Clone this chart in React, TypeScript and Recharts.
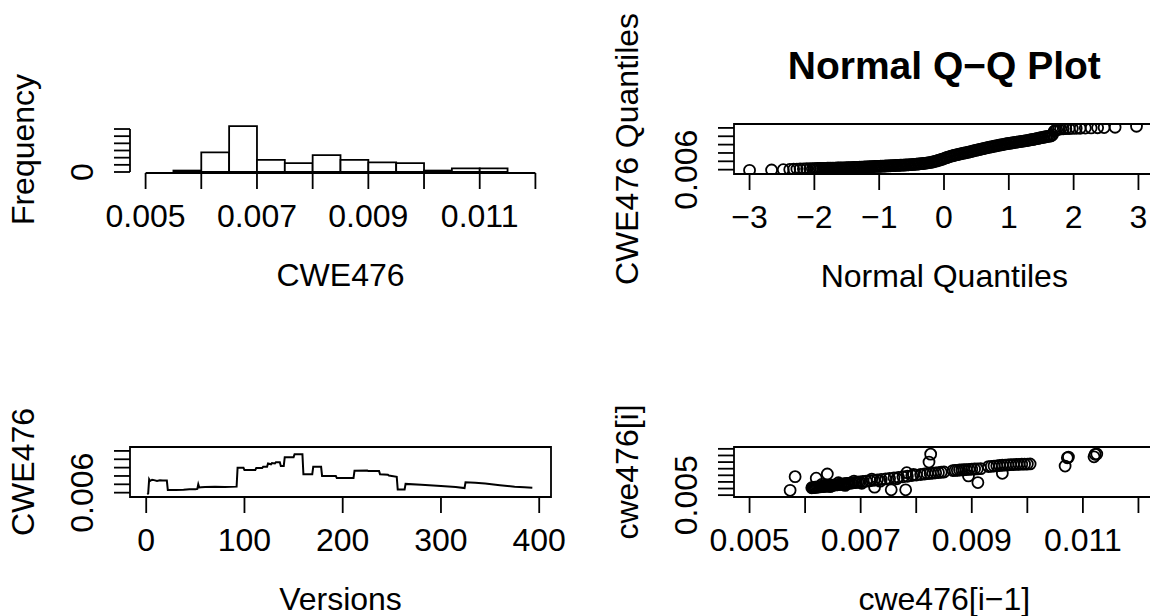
import React from 'react';
import { ScatterChart, Scatter, LineChart, Line, XAxis, YAxis, ReferenceArea, ReferenceLine, Label } from 'recharts';

const FONT = '"Liberation Sans", Arial, Helvetica, sans-serif';
const FS = 32;
const TITLE_FS = 39;
const LW = 1.8;

// ---------- Histogram of CWE476 ----------
const histBinStart = [0.0055, 0.006, 0.0065, 0.007, 0.0075, 0.008, 0.0085, 0.009, 0.0095, 0.01, 0.0105, 0.011];
const histBinEnd = [0.006, 0.0065, 0.007, 0.0075, 0.008, 0.0085, 0.009, 0.0095, 0.01, 0.0105, 0.011, 0.0115];
const histCounts = [4, 55, 128, 34, 25, 47, 34, 27, 25, 4, 10, 10];
const histXTicks = [0.005, 0.006, 0.007, 0.008, 0.009, 0.01, 0.011, 0.012];
const histXLabels = ['0.005', '', '0.007', '', '0.009', '', '0.011', ''];
const histYTicks = [0, 20, 40, 60, 80, 100, 120];
const histYLabels = ['0', '', '', '', '', '', ''];

// ---------- Normal Q-Q plot: [theoretical quantile, sample quantile] ----------
const qqPoints: [number, number][] = [
  [-3.0, 0.00592], [-2.66, 0.00596], [-2.48, 0.006], [-2.38, 0.00603], [-2.32, 0.00605], [-2.27, 0.00607],
  [-2.22, 0.00608], [-2.17, 0.0061], [-2.12, 0.00611], [-2.07, 0.00612], [-2.03, 0.00612],
  [-2.0, 0.00613], [-1.975, 0.00613], [-1.95, 0.00614], [-1.925, 0.00614], [-1.9, 0.00615], [-1.875, 0.00615],
  [-1.85, 0.00616], [-1.825, 0.00616], [-1.8, 0.00617], [-1.775, 0.00617], [-1.75, 0.00618], [-1.725, 0.00618],
  [-1.7, 0.00619], [-1.675, 0.00619], [-1.65, 0.0062], [-1.625, 0.0062], [-1.6, 0.00621], [-1.575, 0.00621],
  [-1.55, 0.00622], [-1.525, 0.00622], [-1.5, 0.00623], [-1.475, 0.00624], [-1.45, 0.00624], [-1.425, 0.00625],
  [-1.4, 0.00626], [-1.375, 0.00627], [-1.35, 0.00627], [-1.325, 0.00628], [-1.3, 0.00629], [-1.275, 0.0063],
  [-1.25, 0.00631], [-1.225, 0.00632], [-1.2, 0.00633], [-1.175, 0.00634], [-1.15, 0.00635], [-1.125, 0.00636],
  [-1.1, 0.00637], [-1.075, 0.00638], [-1.05, 0.00639], [-1.025, 0.0064], [-1.0, 0.0064], [-0.975, 0.00641],
  [-0.95, 0.00642], [-0.925, 0.00643], [-0.9, 0.00644], [-0.875, 0.00645], [-0.85, 0.00646], [-0.825, 0.00647],
  [-0.8, 0.00648], [-0.775, 0.00649], [-0.75, 0.0065], [-0.725, 0.00651], [-0.7, 0.00652], [-0.675, 0.00653],
  [-0.65, 0.00654], [-0.625, 0.00655], [-0.6, 0.00656], [-0.575, 0.00657], [-0.55, 0.00658], [-0.525, 0.0066],
  [-0.5, 0.00661], [-0.475, 0.00663], [-0.45, 0.00664], [-0.425, 0.00666], [-0.4, 0.00668], [-0.375, 0.0067],
  [-0.35, 0.00672], [-0.325, 0.00674], [-0.3, 0.00676], [-0.275, 0.00679], [-0.25, 0.00682], [-0.225, 0.00685],
  [-0.2, 0.00688], [-0.175, 0.00692], [-0.15, 0.00697], [-0.125, 0.00702], [-0.1, 0.00708], [-0.075, 0.00714],
  [-0.05, 0.0072], [-0.025, 0.00726], [0.0, 0.00733], [0.025, 0.0074], [0.05, 0.00747], [0.075, 0.00754],
  [0.1, 0.0076], [0.125, 0.00765], [0.15, 0.0077], [0.175, 0.00775], [0.2, 0.0078], [0.225, 0.00784],
  [0.25, 0.00789], [0.275, 0.00793], [0.3, 0.00797], [0.325, 0.00801], [0.35, 0.00805], [0.375, 0.0081],
  [0.4, 0.00814], [0.425, 0.00819], [0.45, 0.00824], [0.475, 0.00829], [0.5, 0.00834], [0.525, 0.00838],
  [0.55, 0.00843], [0.575, 0.00847], [0.6, 0.00852], [0.625, 0.00856], [0.65, 0.0086], [0.675, 0.00865],
  [0.7, 0.00869], [0.725, 0.00873], [0.75, 0.00877], [0.775, 0.00881], [0.8, 0.00885], [0.825, 0.00889],
  [0.85, 0.00893], [0.875, 0.00897], [0.9, 0.00901], [0.925, 0.00904], [0.95, 0.00908], [0.975, 0.00911],
  [1.0, 0.00915], [1.025, 0.00918], [1.05, 0.00921], [1.075, 0.00925], [1.1, 0.00928], [1.125, 0.00931],
  [1.15, 0.00934], [1.175, 0.00937], [1.2, 0.0094], [1.225, 0.00943], [1.25, 0.00946], [1.275, 0.00949],
  [1.3, 0.00952], [1.325, 0.00956], [1.35, 0.0096], [1.375, 0.00963], [1.4, 0.00967], [1.425, 0.00971],
  [1.45, 0.00975], [1.475, 0.00979], [1.5, 0.00983], [1.525, 0.00987], [1.55, 0.00991], [1.575, 0.00994],
  [1.6, 0.00998], [1.625, 0.01001], [1.65, 0.01005], [1.675, 0.0102],
  [1.7, 0.0106], [1.72, 0.0107], [1.74, 0.01078], [1.77, 0.01085], [1.8, 0.01088], [1.84, 0.0109],
  [1.88, 0.01091], [1.93, 0.01092], [1.98, 0.01094], [2.04, 0.01095], [2.1, 0.01096], [2.18, 0.01098],
  [2.27, 0.011], [2.37, 0.01102], [2.47, 0.01104], [2.64, 0.01108], [2.97, 0.0112],
];
const qqXTicks = [-3, -2, -1, 0, 1, 2, 3];
const qqXLabels = ['\u22123', '\u22122', '\u22121', '0', '1', '2', '3'];
const qqYTicks = [0.006, 0.007, 0.008, 0.009, 0.01, 0.011];
const qqYLabels = ['0.006', '', '', '', '', ''];

// ---------- CWE476 over versions: [version, value] ----------
const seriesPoints: [number, number][] = [
  [1, 0.0058], [2, 0.0059], [3, 0.0076], [4, 0.0074], [6, 0.00755], [8, 0.0075], [11, 0.0074], [14, 0.00748],
  [17, 0.00745], [21, 0.00745], [22, 0.00632], [30, 0.00632], [38, 0.00635], [44, 0.0064], [50, 0.0064],
  [52, 0.00645], [53, 0.007], [54, 0.00662], [56, 0.00665], [60, 0.00668], [70, 0.0067], [80, 0.00668],
  [92, 0.00672], [93, 0.00898], [99, 0.00898], [100, 0.0087], [111, 0.0087], [112, 0.00895], [118, 0.00895],
  [119, 0.0091], [123, 0.0091], [124, 0.0095], [127, 0.0094], [128, 0.00955], [131, 0.0095], [132, 0.00965],
  [136, 0.00965], [137, 0.0092], [140, 0.0092], [141, 0.01025], [150, 0.01025], [151, 0.0106], [159, 0.0106],
  [160, 0.0082], [169, 0.0082], [170, 0.0091], [178, 0.0091], [179, 0.008], [193, 0.008], [194, 0.00775],
  [211, 0.00775], [212, 0.00862], [225, 0.00865], [226, 0.00858], [237, 0.00858], [238, 0.0082], [246, 0.00815],
  [247, 0.00805], [255, 0.0079], [256, 0.00638], [263, 0.00638], [264, 0.00705], [280, 0.00695], [300, 0.0068],
  [315, 0.00668], [324, 0.00655], [325, 0.00725], [335, 0.0072], [345, 0.0071], [360, 0.0069], [375, 0.00672],
  [385, 0.00665], [393, 0.0066],
];
const verXTicks = [0, 100, 200, 300, 400];
const verXLabels = ['0', '100', '200', '300', '400'];

// ---------- Lag plot: [cwe476[i-1], cwe476[i]] ----------
const lagPoints: [number, number][] = [
  [0.00573, 0.00573], [0.00582, 0.0078],
  [0.00612, 0.00612], [0.00614, 0.00614], [0.00616, 0.00617], [0.00618, 0.0062], [0.0062, 0.00621],
  [0.00622, 0.00622], [0.00624, 0.00624], [0.00626, 0.00625], [0.00628, 0.00628], [0.0063, 0.0063],
  [0.00632, 0.00631], [0.00634, 0.00633], [0.00636, 0.00636], [0.00638, 0.00638], [0.0064, 0.00639],
  [0.00642, 0.00641], [0.00644, 0.00644], [0.00646, 0.00646], [0.00648, 0.00648], [0.0065, 0.00651],
  [0.00652, 0.00652], [0.00655, 0.00655], [0.00658, 0.00657], [0.0066, 0.0066], [0.00662, 0.00662],
  [0.00665, 0.00664], [0.00668, 0.00667], [0.0067, 0.0067], [0.00672, 0.00673], [0.00675, 0.00676],
  [0.00678, 0.00679], [0.0068, 0.00682], [0.00683, 0.00684], [0.00686, 0.00687], [0.0069, 0.0069],
  [0.00692, 0.00693], [0.00695, 0.00697], [0.00698, 0.007], [0.00704, 0.00706], [0.0071, 0.00712],
  [0.00717, 0.00718], [0.00724, 0.00724], [0.0073, 0.00731], [0.00737, 0.00738], [0.00745, 0.00745],
  [0.00752, 0.00752], [0.0076, 0.00762], [0.00768, 0.0077], [0.00776, 0.00778], [0.00784, 0.00786],
  [0.00792, 0.00796], [0.008, 0.00804], [0.00808, 0.00812], [0.00815, 0.0082], [0.0082, 0.00824],
  [0.00825, 0.00828], [0.0083, 0.00832], [0.00835, 0.00838], [0.0084, 0.00842], [0.00845, 0.00846],
  [0.0085, 0.0085],
  [0.0063, 0.00662], [0.00645, 0.00628], [0.0066, 0.00688], [0.00672, 0.00648], [0.00688, 0.00712],
  [0.00702, 0.0068], [0.0072, 0.00742], [0.00735, 0.00712], [0.00765, 0.00748], [0.00795, 0.00812],
  [0.0062, 0.00756], [0.0064, 0.0082], [0.00725, 0.00621], [0.00755, 0.00581], [0.00781, 0.00581],
  [0.00783, 0.0084], [0.00823, 0.01], [0.00826, 0.0112],
  [0.00866, 0.00872], [0.0087, 0.00874], [0.00874, 0.00876], [0.00878, 0.0088], [0.00882, 0.00882],
  [0.00886, 0.00884], [0.0089, 0.00887], [0.00895, 0.0089], [0.009, 0.00892], [0.00905, 0.00895],
  [0.0091, 0.00897], [0.00916, 0.009],
  [0.00894, 0.0079], [0.00911, 0.0069], [0.00955, 0.0083],
  [0.0093, 0.00932], [0.00935, 0.00936], [0.0094, 0.0094], [0.00945, 0.00944], [0.0095, 0.00948],
  [0.00955, 0.00952], [0.0096, 0.00955], [0.00965, 0.00958], [0.0097, 0.0096], [0.00975, 0.00962],
  [0.0098, 0.00964], [0.00985, 0.00966], [0.0099, 0.00968], [0.00995, 0.00969], [0.01, 0.0097],
  [0.01005, 0.00972],
  [0.01068, 0.0094], [0.01072, 0.01065], [0.01074, 0.01075], [0.0112, 0.0108], [0.01122, 0.01118],
  [0.01125, 0.01122],
];
const lagTicks = [0.005, 0.006, 0.007, 0.008, 0.009, 0.01, 0.011, 0.012];
const lagXLabels = ['0.005', '', '0.007', '', '0.009', '', '0.011', ''];
const lagYLabels = ['0.005', '', '', '', '', '', '', ''];

// ---------- helpers ----------
const txt = { fontFamily: FONT, fontSize: FS, fill: '#000' } as const;

const findLabel = (ticks: number[], labels: string[], v: number) => {
  const i = ticks.findIndex((t) => Math.abs(t - v) < 1e-9);
  return i >= 0 ? labels[i] : '';
};

const mkXTick = (ticks: number[], labels: string[]) => (props: any) => {
  const { x, y, payload } = props;
  const lab = findLabel(ticks, labels, payload.value);
  if (!lab) return <g />;
  return (
    <text x={x} y={y + 38} textAnchor="middle" {...txt}>
      {lab}
    </text>
  );
};

const mkYTick = (ticks: number[], labels: string[]) => (props: any) => {
  const { x, y, payload } = props;
  const lab = findLabel(ticks, labels, payload.value);
  if (!lab) return <g />;
  const bx = x - 20.7;
  return (
    <text x={bx} y={y} transform={`rotate(-90 ${bx} ${y})`} textAnchor="middle" {...txt}>
      {lab}
    </text>
  );
};

const xTitle = (cx: number, by: number, s: string) => () => (
  <text x={cx} y={by} textAnchor="middle" {...txt}>
    {s}
  </text>
);
const yTitle = (bx: number, cy: number, s: string) => () => (
  <text x={bx} y={cy} transform={`rotate(-90 ${bx} ${cy})`} textAnchor="middle" {...txt}>
    {s}
  </text>
);

const circleShape = (p: any) => (
  <circle cx={p.cx} cy={p.cy} r={5.5} fill="none" stroke="#000" strokeWidth={1.8} />
);
const noShape = () => <g />;

const tickLineStyle = { stroke: '#000', strokeWidth: LW };

const histData = histBinStart.map((s, i) => ({ mid: (s + histBinEnd[i]) / 2, count: histCounts[i] }));
const qqData = qqPoints.map(([x, y]) => ({ x, y }));
const seriesData = seriesPoints.map(([version, value]) => ({ version, value }));
const lagData = lagPoints.map(([x, y]) => ({ x, y }));

const HIST_X_DOMAIN: [number, number] = [0.00472, 0.01228];
const HIST_Y: [number, number] = [-2.8, 128.4];
const VAL_Y: [number, number] = [0.00548, 0.01147];
const LAG_D: [number, number] = [0.00472, 0.01228];
const QQ_X: [number, number] = [-3.24, 3.24];
const VER_X: [number, number] = [-16.5, 412];

export default function App() {
  return (
    <div style={{ position: 'absolute', left: 0, top: 0, width: 1150, height: 616, overflow: 'hidden', background: '#fff' }}>
      {/* Top-left: histogram */}
      <div style={{ position: 'absolute', left: 0, top: 0 }}>
        <ScatterChart width={575} height={308} margin={{ top: 126, right: 24, bottom: 0, left: 0 }}>
          <XAxis
            type="number"
            dataKey="mid"
            domain={HIST_X_DOMAIN}
            allowDataOverflow
            ticks={histXTicks}
            interval={0}
            axisLine={false}
            tickLine={tickLineStyle}
            tickSize={16}
            tickMargin={0}
            height={135}
            tick={mkXTick(histXTicks, histXLabels)}
          >
            <Label content={xTitle(340.5, 286, 'CWE476')} />
          </XAxis>
          <YAxis
            type="number"
            dataKey="count"
            domain={HIST_Y}
            allowDataOverflow
            ticks={histYTicks}
            interval={0}
            axisLine={false}
            tickLine={tickLineStyle}
            tickSize={16}
            tickMargin={0}
            width={130}
            tick={mkYTick(histYTicks, histYLabels)}
          >
            <Label content={yTitle(34, 149.5, 'Frequency')} />
          </YAxis>
          {histData.map((d, i) => (
            <ReferenceArea
              key={i}
              x1={histBinStart[i]}
              x2={histBinEnd[i]}
              y1={0}
              y2={d.count}
              fill="#fff"
              fillOpacity={1}
              stroke="#000"
              strokeWidth={LW}
              ifOverflow="visible"
            />
          ))}
          <ReferenceLine
            segment={[{ x: histXTicks[0], y: HIST_Y[0] }, { x: histXTicks[histXTicks.length - 1], y: HIST_Y[0] }]}
            stroke="#000"
            strokeWidth={LW}
            ifOverflow="visible"
          />
          <ReferenceLine
            segment={[{ x: HIST_X_DOMAIN[0], y: histYTicks[0] }, { x: HIST_X_DOMAIN[0], y: histYTicks[histYTicks.length - 1] }]}
            stroke="#000"
            strokeWidth={LW}
            ifOverflow="visible"
          />
          <Scatter data={histData} shape={noShape} isAnimationActive={false} />
        </ScatterChart>
      </div>

      {/* Top-right: Normal Q-Q plot */}
      <div style={{ position: 'absolute', left: 575, top: 0 }}>
        <ScatterChart width={600} height={308} margin={{ top: 124, right: 21, bottom: 0, left: 0 }}>
          <XAxis
            type="number"
            dataKey="x"
            domain={QQ_X}
            allowDataOverflow
            ticks={qqXTicks}
            interval={0}
            axisLine={false}
            tickLine={tickLineStyle}
            tickSize={16}
            tickMargin={0}
            height={134}
            tick={mkXTick(qqXTicks, qqXLabels)}
          >
            <Label
              content={() => (
                <g>
                  <text x={369.3} y={287} textAnchor="middle" {...txt}>
                    Normal Quantiles
                  </text>
                  <text x={369.3} y={79} textAnchor="middle" fontFamily={FONT} fontSize={TITLE_FS} fontWeight="bold" fill="#000">
                    {'Normal Q\u2212Q Plot'}
                  </text>
                </g>
              )}
            />
          </XAxis>
          <YAxis
            type="number"
            dataKey="y"
            domain={VAL_Y}
            allowDataOverflow
            ticks={qqYTicks}
            interval={0}
            axisLine={false}
            tickLine={tickLineStyle}
            tickSize={16}
            tickMargin={0}
            width={159}
            tick={mkYTick(qqYTicks, qqYLabels)}
          >
            <Label content={yTitle(63, 149, 'CWE476 Quantiles')} />
          </YAxis>
          <ReferenceArea x1={QQ_X[0]} x2={QQ_X[1]} y1={VAL_Y[0]} y2={VAL_Y[1]} fill="none" stroke="#000" strokeWidth={LW} ifOverflow="visible" />
          <Scatter data={qqData} shape={circleShape} isAnimationActive={false} />
        </ScatterChart>
      </div>

      {/* Bottom-left: series over versions */}
      <div style={{ position: 'absolute', left: 0, top: 308 }}>
        <LineChart width={575} height={308} data={seriesData} margin={{ top: 139, right: 24, bottom: 0, left: 0 }}>
          <XAxis
            type="number"
            dataKey="version"
            domain={VER_X}
            allowDataOverflow
            ticks={verXTicks}
            interval={0}
            axisLine={false}
            tickLine={tickLineStyle}
            tickSize={16}
            tickMargin={0}
            height={119}
            tick={mkXTick(verXTicks, verXLabels)}
          >
            <Label content={xTitle(340.5, 302, 'Versions')} />
          </XAxis>
          <YAxis
            type="number"
            domain={VAL_Y}
            allowDataOverflow
            ticks={qqYTicks}
            interval={0}
            axisLine={false}
            tickLine={tickLineStyle}
            tickSize={16}
            tickMargin={0}
            width={130}
            tick={mkYTick(qqYTicks, qqYLabels)}
          >
            <Label content={yTitle(34, 164, 'CWE476')} />
          </YAxis>
          <ReferenceArea x1={VER_X[0]} x2={VER_X[1]} y1={VAL_Y[0]} y2={VAL_Y[1]} fill="none" stroke="#000" strokeWidth={LW} ifOverflow="visible" />
          <Line type="linear" dataKey="value" stroke="#000" strokeWidth={2} dot={false} isAnimationActive={false} />
        </LineChart>
      </div>

      {/* Bottom-right: lag plot */}
      <div style={{ position: 'absolute', left: 575, top: 308 }}>
        <ScatterChart width={600} height={308} margin={{ top: 139, right: 21, bottom: 0, left: 0 }}>
          <XAxis
            type="number"
            dataKey="x"
            domain={LAG_D}
            allowDataOverflow
            ticks={lagTicks}
            interval={0}
            axisLine={false}
            tickLine={tickLineStyle}
            tickSize={16}
            tickMargin={0}
            height={119}
            tick={mkXTick(lagTicks, lagXLabels)}
          >
            <Label content={xTitle(369.3, 302, 'cwe476[i\u22121]')} />
          </XAxis>
          <YAxis
            type="number"
            dataKey="y"
            domain={LAG_D}
            allowDataOverflow
            ticks={lagTicks}
            interval={0}
            axisLine={false}
            tickLine={tickLineStyle}
            tickSize={16}
            tickMargin={0}
            width={159}
            tick={mkYTick(lagTicks, lagYLabels)}
          >
            <Label content={yTitle(63, 164, 'cwe476[i]')} />
          </YAxis>
          <ReferenceArea x1={LAG_D[0]} x2={LAG_D[1]} y1={LAG_D[0]} y2={LAG_D[1]} fill="none" stroke="#000" strokeWidth={LW} ifOverflow="visible" />
          <Scatter data={lagData} shape={circleShape} isAnimationActive={false} />
        </ScatterChart>
      </div>
    </div>
  );
}
